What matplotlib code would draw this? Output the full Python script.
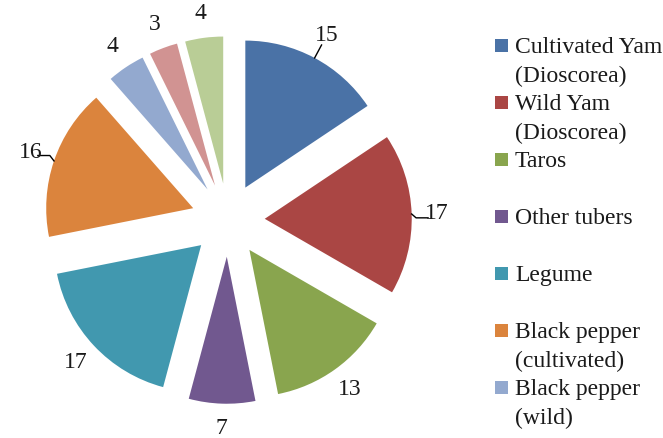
import numpy as np
import matplotlib
matplotlib.use('Agg')
import matplotlib.pyplot as plt
from matplotlib.patches import Rectangle

# slice values, clockwise from 12 o'clock
values = [15, 17, 13, 7, 17, 16, 4, 3, 4]
colors = ['#4A72A6', '#AA4644', '#89A54E', '#71588F', '#4198AF',
          '#DB843D', '#93A9CF', '#D19392', '#B9CD96']
# legend in the source is cut off after 7 entries
legend_labels = ['Cultivated Yam\n(Dioscorea)', 'Wild Yam\n(Dioscorea)', 'Taros',
                 'Other tubers', 'Legume', 'Black pepper\n(cultivated)',
                 'Black pepper\n(wild)']
leader = [0, 1, 5]  # slices whose label has a leader line

plt.rcParams['font.family'] = ['Liberation Serif', 'DejaVu Serif']

W, H = 663, 438
fig = plt.figure(figsize=(W / 100, H / 100), dpi=100)
ax = fig.add_axes([0, 0, 1, 1])

r = 147
cx, cy = 228, H - 220
total = sum(values)

wedges, texts, autotexts = ax.pie(
    values, colors=colors, startangle=90, counterclock=False,
    explode=[0.25 * r] * len(values), radius=r, center=(cx, cy),
    autopct=lambda p: '%d' % int(round(p * total / 100)), pctdistance=1.17,
    wedgeprops=dict(linewidth=0), textprops=dict(fontsize=17, color='#1a1a1a'))

for i in leader:
    w = wedges[i]
    th = np.deg2rad((w.theta1 + w.theta2) / 2)
    x0, y0 = w.center
    p1 = (x0 + r * np.cos(th), y0 + r * np.sin(th))
    if i == 0:
        p2 = (x0 + 1.1 * r * np.cos(th), y0 + 1.1 * r * np.sin(th))
        xs, ys = [p1[0], p2[0]], [p1[1], p2[1]]
    else:
        p2 = (x0 + 1.03 * r * np.cos(th), y0 + 1.03 * r * np.sin(th) - 4 * np.sign(np.cos(th)))
        p3 = (p2[0] + 12 * np.sign(np.cos(th)), p2[1])
        xs, ys = [p1[0], p2[0], p3[0]], [p1[1], p2[1], p3[1]]
    ax.plot(xs, ys, color='black', lw=1)

# legend drawn by hand: fixed slot per entry like the original
for i, lab in enumerate(legend_labels):
    top = 39 + 57 * i
    ax.add_patch(Rectangle((495, H - top - 13), 13, 13, color=colors[i], lw=0))
    for j, line in enumerate(lab.split('\n')):
        ax.text(515, H - top - 14 - 29 * j, line, fontsize=17, va='baseline',
                ha='left', color='#1a1a1a')

ax.set_xlim(0, W)
ax.set_ylim(0, H)
ax.set_aspect('equal')
ax.axis('off')

fig.savefig('out.png', dpi=100)
